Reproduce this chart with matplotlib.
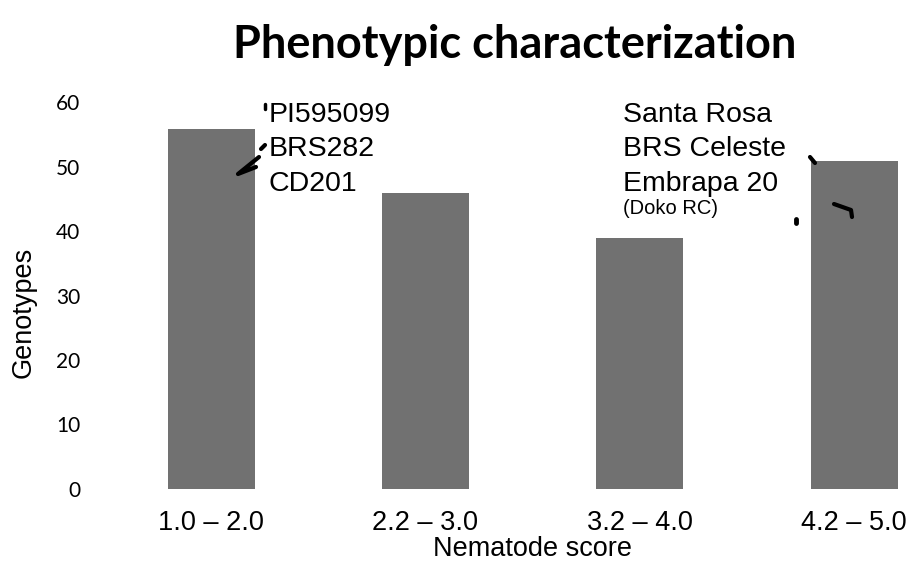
import matplotlib
matplotlib.use("Agg")
import matplotlib.pyplot as plt
from matplotlib.lines import Line2D

categories = ["1.0 – 2.0", "2.2 – 3.0", "3.2 – 4.0", "4.2 – 5.0"]
genotypes = [55.8, 45.9, 38.9, 50.8]
yticks = [0, 10, 20, 30, 40, 50, 60]
left_note = "PI595099\nBRS282\nCD201"
right_note = "Santa Rosa\nBRS Celeste\nEmbrapa 20"
right_sub = "(Doko RC)"

W, H = 913, 561
fig = plt.figure(figsize=(W / 100, H / 100), dpi=100)

# axes placement in pixels
ax_l, ax_r = 90, 905
ax_top, ax_bot = 102, 489
ax = fig.add_axes([ax_l / W, (H - ax_bot) / H, (ax_r - ax_l) / W, (ax_bot - ax_top) / H])

centers_px = [211, 427, 640.5, 854]
step = (centers_px[-1] - centers_px[0]) / 3
xmin = -(centers_px[0] - ax_l) / step
xmax = 3 + (ax_r - centers_px[-1]) / step

x = list(range(len(categories)))
ax.bar(x, genotypes, width=87 / step, color="#717171", edgecolor="none")
ax.set_xlim(xmin, xmax)
ax.set_ylim(0, 60)
ax.set_yticks(yticks)
ax.set_yticklabels([str(v) for v in yticks], fontfamily="Lato", fontsize=15)
ax.set_xticks(x)
ax.set_xticklabels(categories, fontfamily=["Liberation Sans Narrow", "Liberation Sans"], fontsize=19.5)
ax.tick_params(axis="both", length=0)
ax.tick_params(axis="y", pad=7)
ax.tick_params(axis="x", pad=15)
for s in ax.spines.values():
    s.set_visible(False)

fig.text(532 / W, 1 - 549 / H, "Nematode score", ha="center", va="center",
         fontfamily=["Liberation Sans Narrow", "Liberation Sans"], fontsize=19.5)
fig.text(24 / W, 1 - 312 / H, "Genotypes", rotation=90, ha="center", va="center",
         fontfamily="Liberation Sans", fontsize=19.5)

fig.text(515 / W, 1 - 45 / H, "Phenotypic characterization", ha="center", va="center",
         fontfamily="Lato", fontweight="bold", fontsize=32.5)

fig.text(269 / W, 1 - 102 / H, left_note, ha="left", va="top",
         fontfamily="Liberation Sans", fontsize=20.5, linespacing=1.42)
fig.text(623 / W, 1 - 102 / H, right_note, ha="left", va="top",
         fontfamily="Liberation Sans", fontsize=20.5, linespacing=1.42)
fig.text(623 / W, 1 - 209 / H, right_sub, ha="left", va="center",
         fontfamily="Liberation Sans", fontsize=14.5)

def seg(pts, lw=3):
    xs = [p[0] / W for p in pts]
    ys = [1 - p[1] / H for p in pts]
    fig.add_artist(Line2D(xs, ys, color="black", lw=lw, solid_capstyle="round",
                          solid_joinstyle="round", transform=fig.transFigure))

# small stray marks from the original slide
seg([(265, 104), (265, 109)], 2.5)
seg([(265, 145), (261, 149)], 3)
seg([(259, 157), (238, 174), (256, 167)], 3)
seg([(810, 157), (815, 163)], 3)
seg([(796, 219), (796, 223)], 3.5)
seg([(834, 204), (851, 210), (852, 217)], 3)

fig.savefig("out.png", dpi=100)
